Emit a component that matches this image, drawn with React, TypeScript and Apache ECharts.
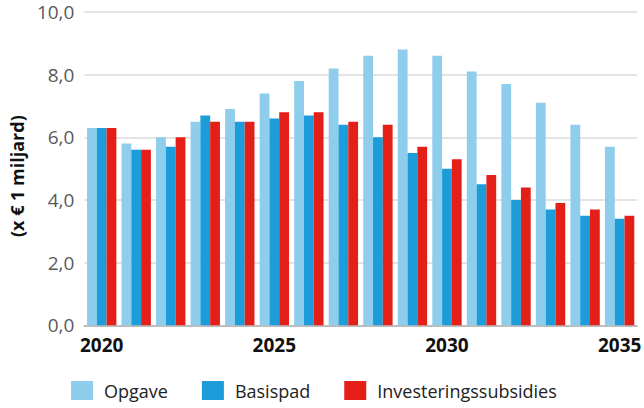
import React, { useEffect, useRef } from "react";
import * as echarts from "echarts";

const years = ["2020","2021","2022","2023","2024","2025","2026","2027","2028","2029","2030","2031","2032","2033","2034","2035"];
const opgave = [6.3,5.8,6.0,6.5,6.9,7.4,7.8,8.2,8.6,8.8,8.6,8.1,7.7,7.1,6.4,5.7];
const basispad = [6.3,5.6,5.7,6.7,6.5,6.6,6.7,6.4,6.0,5.5,5.0,4.5,4.0,3.7,3.5,3.4];
const investeringssubsidies = [6.3,5.6,6.0,6.5,6.5,6.8,6.8,6.5,6.4,5.7,5.3,4.8,4.4,3.9,3.7,3.5];
const seriesNames = ["Opgave","Basispad","Investeringssubsidies"];
const colors = ["#8ecdeb","#1c9dd9","#e31f18"];

export default function App() {
  const ref = useRef<HTMLDivElement>(null);
  useEffect(() => {
    if (!ref.current) return;
    const chart = echarts.init(ref.current, null, { renderer: "svg" });
    const font = "'Open Sans', 'Noto Sans', sans-serif";
    const data = [opgave, basispad, investeringssubsidies];
    chart.setOption({
      animation: false,
      textStyle: { fontFamily: font },
      grid: { left: 74, right: 6, top: 12, bottom: 82.7, containLabel: false },
      legend: {
        left: 71,
        top: 381,
        padding: 0,
        itemWidth: 22,
        itemHeight: 19,
        itemGap: 34,
        icon: "rect",
        data: seriesNames,
        textStyle: { fontSize: 18, color: "#222", fontFamily: font, padding: [0, 0, 0, 6] },
      },
      xAxis: {
        type: "category",
        data: years,
        axisTick: { show: false },
        axisLine: { lineStyle: { color: "#bdbdbd", width: 2 } },
        axisLabel: {
          interval: 4,
          margin: 10,
          fontSize: 19,
          fontWeight: "bold",
          color: "#111",
          fontFamily: font,
        },
      },
      yAxis: {
        type: "value",
        min: 0,
        max: 10,
        interval: 2,
        name: "(x € 1 miljard)",
        nameLocation: "middle",
        nameGap: 56,
        nameRotate: 90,
        nameTextStyle: {
          fontSize: 18,
          fontWeight: "bold",
          color: "#111",
          fontFamily: font,
          padding: [0, 15, 0, 0],
        },
        axisLine: { show: false },
        axisTick: { show: false },
        splitLine: { lineStyle: { color: "#e4e4e4", width: 2 } },
        axisLabel: {
          fontSize: 19,
          color: "#5a5a5a",
          margin: 10,
          fontFamily: font,
          formatter: (v: number) => v.toFixed(1).replace(".", ","),
        },
      },
      series: seriesNames.map((name, i) => ({
        name,
        type: "bar",
        data: data[i],
        barGap: "0%",
        barCategoryGap: "15%",
        itemStyle: { color: colors[i] },
      })),
    });
    return () => chart.dispose();
  }, []);
  return <div ref={ref} style={{ width: 644, height: 408, position: "absolute", left: 0, top: 0 }} />;
}
